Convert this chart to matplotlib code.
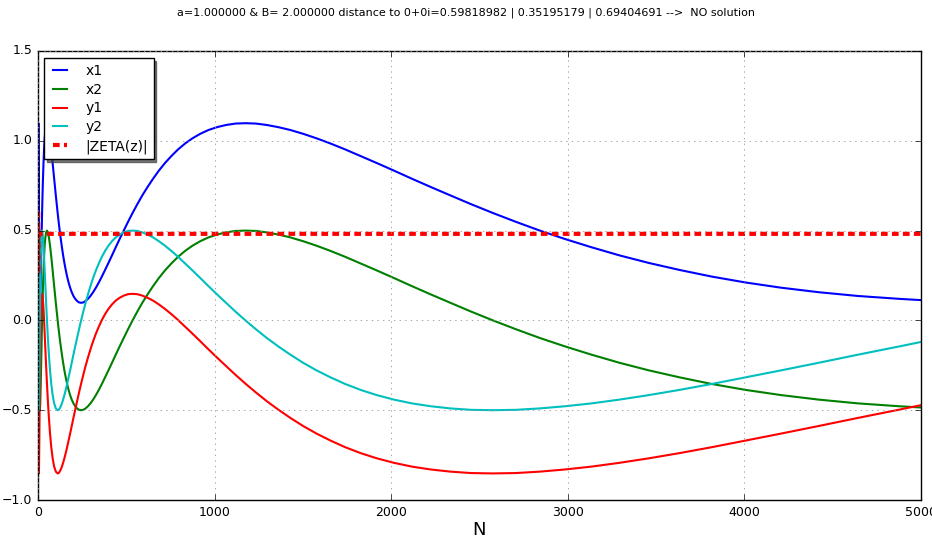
import matplotlib
matplotlib.use("Agg")
import matplotlib.pyplot as plt

plt.style.use("classic")
plt.rcParams["font.family"] = ["DejaVu Sans"]

title = ("a=1.000000 & B= 2.000000 distance to 0+0i=0.59818982 | 0.35195179 | "
         "0.69404691 -->  NO solution")

N = [1.0, 1.48, 2.19, 3.25, 4.81, 5.85, 7.12, 8.67, 10.55, 12.84, 15.63, 19.02,
     23.1, 25.5, 28.2, 31.1, 34.3, 37.8, 41.7, 46.0, 50.8, 56.0, 61.8, 68.1,
     75.2, 82.9, 91.5, 100.9,
     111.3, 116.9, 122.8, 129.0, 135.5, 142.3, 149.4, 157.0, 164.9, 173.2,
     181.9, 191.0, 200.6, 210.7, 221.3, 232.5, 244.2, 256.5, 269.4, 282.9,
     297.1, 312.1, 327.8, 344.3, 361.6, 379.8, 398.9, 419.0, 440.1, 462.2,
     485.5, 509.9, 535.5, 562.4, 590.7, 620.5, 651.7, 684.5, 718.9, 755.1,
     793.1, 833.0, 874.9, 918.9, 965.1, 1013.7, 1064.7, 1118.2, 1174.5,
     1233.6, 1295.7, 1360.8, 1429.3, 1501.2, 1576.8, 1656.1, 1739.4, 1826.9,
     1918.8, 2015.4, 2116.8, 2223.3, 2335.1, 2452.6, 2576.0, 2705.6, 2841.7,
     2984.7, 3134.9, 3292.6, 3458.3, 3632.3, 3815.0, 4007.0, 4208.6, 4420.3,
     4642.7, 4876.3, 5000.0]

x1 = [0.598, 0.952, 1.098, 0.952, 0.598, 0.407, 0.244, 0.136, 0.098, 0.136,
      0.244, 0.407, 0.598, 0.696, 0.789, 0.876, 0.952, 1.014, 1.060, 1.088,
      1.098, 1.088, 1.060, 1.014, 0.952, 0.876, 0.789, 0.696,
      0.598, 0.549, 0.500, 0.453, 0.407, 0.362, 0.320, 0.281, 0.244, 0.211,
      0.182, 0.157, 0.136, 0.120, 0.108, 0.100, 0.098, 0.100, 0.108, 0.120,
      0.136, 0.157, 0.182, 0.211, 0.244, 0.281, 0.320, 0.362, 0.407, 0.453,
      0.500, 0.549, 0.598, 0.647, 0.696, 0.743, 0.789, 0.834, 0.876, 0.915,
      0.952, 0.985, 1.014, 1.039, 1.060, 1.076, 1.088, 1.096, 1.098, 1.096,
      1.088, 1.076, 1.060, 1.039, 1.014, 0.985, 0.952, 0.915, 0.876, 0.834,
      0.789, 0.743, 0.696, 0.647, 0.598, 0.549, 0.500, 0.453, 0.407, 0.362,
      0.320, 0.281, 0.244, 0.211, 0.182, 0.157, 0.136, 0.120, 0.113]

x2 = [0.000, 0.354, 0.500, 0.354, 0.000, -0.191, -0.354, -0.462, -0.500,
      -0.462, -0.354, -0.191, 0.000, 0.098, 0.191, 0.278, 0.354, 0.416, 0.462,
      0.490, 0.500, 0.490, 0.462, 0.416, 0.354, 0.278, 0.191, 0.098,
      0.000, -0.049, -0.098, -0.145, -0.191, -0.236, -0.278, -0.317, -0.354,
      -0.387, -0.416, -0.441, -0.462, -0.478, -0.490, -0.498, -0.500, -0.498,
      -0.490, -0.478, -0.462, -0.441, -0.416, -0.387, -0.354, -0.317, -0.278,
      -0.236, -0.191, -0.145, -0.098, -0.049, 0.000, 0.049, 0.098, 0.145,
      0.191, 0.236, 0.278, 0.317, 0.354, 0.387, 0.416, 0.441, 0.462, 0.478,
      0.490, 0.498, 0.500, 0.498, 0.490, 0.478, 0.462, 0.441, 0.416, 0.387,
      0.354, 0.317, 0.278, 0.236, 0.191, 0.145, 0.098, 0.049, 0.000, -0.049,
      -0.098, -0.145, -0.191, -0.236, -0.278, -0.317, -0.354, -0.387, -0.416,
      -0.441, -0.462, -0.478, -0.485]

y1 = [0.148, 0.002, -0.352, -0.706, -0.852, -0.814, -0.706, -0.543, -0.352,
      -0.161, 0.002, 0.110, 0.148, 0.138, 0.110, 0.064, 0.002, -0.074, -0.161,
      -0.254, -0.352, -0.450, -0.543, -0.630, -0.706, -0.768, -0.814, -0.842,
      -0.852, -0.850, -0.842, -0.830, -0.814, -0.793, -0.768, -0.739, -0.706,
      -0.669, -0.630, -0.588, -0.543, -0.497, -0.450, -0.401, -0.352, -0.303,
      -0.254, -0.207, -0.161, -0.116, -0.074, -0.035, 0.002, 0.035, 0.064,
      0.089, 0.110, 0.126, 0.138, 0.146, 0.148, 0.146, 0.138, 0.126, 0.110,
      0.089, 0.064, 0.035, 0.002, -0.035, -0.074, -0.116, -0.161, -0.207,
      -0.254, -0.303, -0.352, -0.401, -0.450, -0.497, -0.543, -0.588, -0.630,
      -0.669, -0.706, -0.739, -0.768, -0.793, -0.814, -0.830, -0.842, -0.850,
      -0.852, -0.850, -0.842, -0.830, -0.814, -0.793, -0.768, -0.739, -0.706,
      -0.669, -0.630, -0.588, -0.543, -0.497, -0.472]

y2 = [0.500, 0.354, 0.000, -0.354, -0.500, -0.462, -0.354, -0.191, 0.000,
      0.191, 0.354, 0.462, 0.500, 0.490, 0.462, 0.416, 0.354, 0.278, 0.191,
      0.098, 0.000, -0.098, -0.191, -0.278, -0.354, -0.416, -0.462, -0.490,
      -0.500, -0.498, -0.490, -0.478, -0.462, -0.441, -0.416, -0.387, -0.354,
      -0.317, -0.278, -0.236, -0.191, -0.145, -0.098, -0.049, 0.000, 0.049,
      0.098, 0.145, 0.191, 0.236, 0.278, 0.317, 0.354, 0.387, 0.416, 0.441,
      0.462, 0.478, 0.490, 0.498, 0.500, 0.498, 0.490, 0.478, 0.462, 0.441,
      0.416, 0.387, 0.354, 0.317, 0.278, 0.236, 0.191, 0.145, 0.098, 0.049,
      0.000, -0.049, -0.098, -0.145, -0.191, -0.236, -0.278, -0.317, -0.354,
      -0.387, -0.416, -0.441, -0.462, -0.478, -0.490, -0.498, -0.500, -0.498,
      -0.490, -0.478, -0.462, -0.441, -0.416, -0.387, -0.354, -0.317, -0.278,
      -0.236, -0.191, -0.145, -0.120]

zeta = [0.605, 0.260, 0.400, 0.500, 0.470] + [0.482] * 102

x_ticks = [0, 1000, 2000, 3000, 4000, 5000]
y_ticks = [-1.0, -0.5, 0.0, 0.5, 1.0, 1.5]

fig = plt.figure(figsize=(9.32, 5.40), dpi=100, facecolor="white")
ax = fig.add_axes([38 / 932, 40 / 540, 883 / 932, 449 / 540])

ax.plot(N, x1, color="b", lw=1.5, label="x1")
ax.plot(N, x2, color="g", lw=1.5, label="x2")
ax.plot(N, y1, color="r", lw=1.5, label="y1")
ax.plot(N, y2, color="c", lw=1.5, label="y2")
ax.plot(N, zeta, color="r", lw=3.0, linestyle=(0, (4.8, 3.1)),
        label="|ZETA(z)|")

ax.set_xlim(0, 5000)
ax.set_ylim(-1.0, 1.5)
ax.set_xticks(x_ticks)
ax.set_yticks(y_ticks)
ax.tick_params(labelsize=9)
ax.grid(True, color="#999999", linestyle=":", linewidth=0.6)
ax.set_xlabel("N", fontsize=13, labelpad=2)

leg = ax.legend(loc="upper left", fontsize=10, handlelength=1.6,
                handletextpad=1.0, labelspacing=0.35, borderpad=0.4,
                borderaxespad=0.0, fancybox=False,
                shadow={"color": "0.25", "alpha": 0.7}, numpoints=2,
                bbox_to_anchor=(0.0065, 0.984))
leg.get_frame().set_edgecolor("black")

fig.text(0.5, 1 - 13 / 540, title, ha="center", va="center", fontsize=8)

fig.savefig("out.png", dpi=100, facecolor="white")
